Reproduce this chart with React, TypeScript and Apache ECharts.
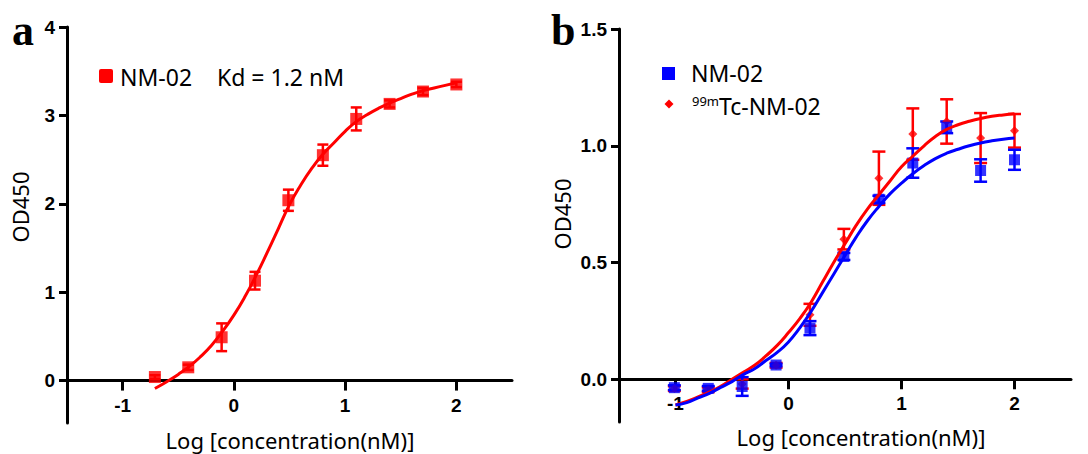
import React, { useEffect, useRef } from "react";
import * as echarts from "echarts";

// ---------- data ----------
const xTicks = [-1, 0, 1, 2];
const aYTicks = [0, 1, 2, 3, 4];
const bYTicks = [0, 0.5, 1.0, 1.5];

// panel a : NM-02
const aX = [-0.71, -0.41, -0.11, 0.19, 0.49, 0.8, 1.1, 1.4, 1.7, 2.0];
const aMean = [0.04, 0.15, 0.49, 1.13, 2.04, 2.55, 2.96, 3.13, 3.27, 3.35];
const aErr = [0.02, 0.03, 0.157, 0.1, 0.12, 0.12, 0.13, 0.04, 0.04, 0.03];
const aFitX = [-0.71, -0.6, -0.5, -0.4, -0.3, -0.2, -0.1, 0, 0.1, 0.2, 0.3, 0.4, 0.5, 0.6, 0.7, 0.8, 0.9, 1.0, 1.1, 1.2, 1.3, 1.4, 1.5, 1.6, 1.7, 1.8, 1.9, 2.0];
const aFitY = [-0.09, -0.01, 0.07, 0.16, 0.27, 0.4, 0.56, 0.74, 0.95, 1.19, 1.45, 1.72, 1.99, 2.21, 2.4, 2.56, 2.69, 2.82, 2.93, 3.01, 3.08, 3.14, 3.19, 3.24, 3.28, 3.31, 3.34, 3.37];

// panel b : NM-02 (blue) and 99mTc-NM-02 (red)
const bX = [-1.01, -0.71, -0.41, -0.11, 0.19, 0.49, 0.8, 1.1, 1.4, 1.7, 2.0];
const bBlueMean = [-0.036, -0.039, -0.031, 0.061, 0.219, 0.526, 0.771, 0.926, 1.079, 0.894, 0.94];
const bBlueErr = [0.01, 0.01, 0.04, 0.005, 0.03, 0.015, 0.015, 0.063, 0.025, 0.048, 0.043];
const bRedMean = [-0.04, -0.045, -0.02, 0.06, 0.276, 0.6, 0.861, 1.05, 1.104, 1.033, 1.064];
const bRedErr = [0.01, 0.01, 0.02, 0.01, 0.047, 0.044, 0.114, 0.11, 0.095, 0.107, 0.072];
const bFitX = [-1.0, -0.9, -0.8, -0.7, -0.6, -0.5, -0.4, -0.3, -0.2, -0.1, 0, 0.1, 0.2, 0.3, 0.4, 0.5, 0.6, 0.7, 0.8, 0.9, 1.0, 1.1, 1.2, 1.3, 1.4, 1.5, 1.6, 1.7, 1.8, 1.9, 2.0];
const bBlueFit = [-0.11, -0.1, -0.08, -0.06, -0.035, -0.01, 0.02, 0.045, 0.08, 0.115, 0.16, 0.22, 0.29, 0.37, 0.45, 0.53, 0.61, 0.68, 0.74, 0.795, 0.84, 0.88, 0.915, 0.945, 0.968, 0.985, 1.0, 1.012, 1.021, 1.028, 1.033];
const bRedFit = [-0.11, -0.095, -0.075, -0.055, -0.03, 0.0, 0.03, 0.06, 0.1, 0.145, 0.2, 0.26, 0.33, 0.415, 0.5, 0.58, 0.66, 0.73, 0.79, 0.85, 0.91, 0.955, 1.0, 1.04, 1.07, 1.09, 1.105, 1.117, 1.126, 1.132, 1.137];

// ---------- styles / layout ----------
const RED = "#ff0000";
const BLUE = "#0000ff";
const X_MIN = -1.5;
const X_MAX = 2.5;
const A_YMIN = -0.48;
const A_YMAX = 4;
const B_YMIN = -0.183;
const B_YMAX = 1.5;
const gridA = { left: 67, top: 27, width: 445, height: 396 };
const gridB = { left: 619, top: 29, width: 452, height: 393 };
// offset that lifts the x axis from the grid bottom to y = 0
const aZeroOffset = -(gridA.height * (0 - A_YMIN)) / (A_YMAX - A_YMIN);
const bZeroOffset = -(gridB.height * (0 - B_YMIN)) / (B_YMAX - B_YMIN);

const tickFont = { fontFamily: '"Liberation Sans", Arial, sans-serif', fontWeight: "bold" as const, fontSize: 19, color: "#000" };
const sansFont = '"Noto Sans", "Open Sans", sans-serif';

const zip = (xs: number[], ys: number[]) => xs.map((x, i) => [x, ys[i]]);
const zip3 = (xs: number[], ys: number[], es: number[]) => xs.map((x, i) => [x, ys[i], es[i]]);

const errRender = (capHalf: number, color: string, lw: number) => (params: any, api: any) => {
  const x = api.value(0);
  const y = api.value(1);
  const e = api.value(2);
  const top = api.coord([x, y + e]);
  const bot = api.coord([x, y - e]);
  const st = { stroke: color, lineWidth: lw };
  return {
    type: "group",
    children: [
      { type: "line", shape: { x1: top[0], y1: top[1], x2: bot[0], y2: bot[1] }, style: st },
      { type: "line", shape: { x1: top[0] - capHalf, y1: top[1], x2: top[0] + capHalf, y2: top[1] }, style: st },
      { type: "line", shape: { x1: bot[0] - capHalf, y1: bot[1], x2: bot[0] + capHalf, y2: bot[1] }, style: st },
    ],
  };
};

const axisLineStyle = { color: "#000", width: 3 };

const makeX = (gridIndex: number, offset: number) => ({
  gridIndex,
  type: "value",
  min: X_MIN,
  max: X_MAX,
  position: "bottom",
  offset,
  axisLine: { show: true, onZero: false, lineStyle: axisLineStyle },
  axisTick: { show: true, length: 10, customValues: xTicks, lineStyle: { color: "#000", width: 3 } },
  axisLabel: { show: true, customValues: xTicks, margin: 15, ...tickFont, formatter: (v: number) => String(v) },
  splitLine: { show: false },
});

const makeY = (gridIndex: number, min: number, max: number, ticks: number[], digits: number) => ({
  gridIndex,
  type: "value",
  min,
  max,
  position: "left",
  axisLine: { show: true, onZero: false, lineStyle: axisLineStyle },
  axisTick: { show: true, length: 8, customValues: ticks, lineStyle: { color: "#000", width: 3 } },
  axisLabel: { show: true, customValues: ticks, margin: 12, ...tickFont, formatter: (v: number) => v.toFixed(digits) },
  splitLine: { show: false },
});

const graphicEls: any[] = [
  // panel letters
  { type: "text", x: 12, y: 30, style: { text: "a", font: 'bold 44px "Liberation Serif", serif', fill: "#000", verticalAlign: "middle" } },
  { type: "text", x: 551, y: 30, style: { text: "b", font: 'bold 44px "Liberation Serif", serif', fill: "#000", verticalAlign: "middle" } },
  // axis titles
  { type: "text", x: 20, y: 207, rotation: Math.PI / 2, style: { text: "OD450", font: `22px ${sansFont}`, fill: "#000", align: "center", verticalAlign: "middle" } },
  { type: "text", x: 290, y: 440, style: { text: "Log [concentration(nM)]", font: `22px ${sansFont}`, lineHeight: 24, fill: "#000", align: "center", verticalAlign: "middle" } },
  { type: "text", x: 562, y: 214, rotation: Math.PI / 2, style: { text: "OD450", font: `22px ${sansFont}`, fill: "#000", align: "center", verticalAlign: "middle" } },
  { type: "text", x: 861, y: 437, style: { text: "Log [concentration(nM)]", font: `22px ${sansFont}`, lineHeight: 24, fill: "#000", align: "center", verticalAlign: "middle" } },
  // legend a
  { type: "rect", shape: { x: 99, y: 69, width: 14, height: 14, r: 2 }, style: { fill: RED } },
  { type: "text", x: 120, y: 77, style: { text: "NM-02", font: `23px ${sansFont}`, fill: "#000", verticalAlign: "middle" } },
  { type: "text", x: 217, y: 77, style: { text: "Kd = 1.2 nM", font: `23px ${sansFont}`, fill: "#000", verticalAlign: "middle" } },
  // legend b
  { type: "rect", shape: { x: 662, y: 67, width: 13, height: 13 }, style: { fill: BLUE } },
  { type: "text", x: 691, y: 73, style: { text: "NM-02", font: `23px ${sansFont}`, fill: "#000", verticalAlign: "middle" } },
  { type: "polygon", shape: { points: [[669, 99.5], [673.5, 104], [669, 108.5], [664.5, 104]] }, style: { fill: RED } },
  {
    type: "text", x: 692, y: 106,
    style: {
      text: "{s|99m}{m|Tc-NM-02}",
      fill: "#000",
      verticalAlign: "middle",
      rich: {
        s: { fontSize: 13, fontFamily: sansFont, verticalAlign: "top", fill: "#000" },
        m: { fontSize: 23, fontFamily: sansFont, fill: "#000" },
      },
    },
  },
];

const option: any = {
  animation: false,
  backgroundColor: "#fff",
  grid: [
    { ...gridA, containLabel: false, outerBoundsMode: "none" },
    { ...gridB, containLabel: false, outerBoundsMode: "none" },
  ],
  xAxis: [makeX(0, aZeroOffset), makeX(1, bZeroOffset)],
  yAxis: [makeY(0, A_YMIN, A_YMAX, aYTicks, 0), makeY(1, B_YMIN, B_YMAX, bYTicks, 1)],
  series: [
    // panel a
    {
      name: "NM-02 fit (a)", type: "line", xAxisIndex: 0, yAxisIndex: 0, data: zip(aFitX, aFitY),
      smooth: true, showSymbol: false, lineStyle: { color: RED, width: 3 }, silent: true,
    },
    {
      name: "NM-02 error (a)", type: "custom", xAxisIndex: 0, yAxisIndex: 0, data: zip3(aX, aMean, aErr),
      renderItem: errRender(5.5, RED, 2.5), silent: true,
    },
    {
      name: "NM-02 (a)", type: "scatter", xAxisIndex: 0, yAxisIndex: 0, data: zip(aX, aMean),
      symbol: "rect", symbolSize: 12, itemStyle: { color: RED }, silent: true,
    },
    // panel b
    {
      name: "99mTc-NM-02 fit", type: "line", xAxisIndex: 1, yAxisIndex: 1, data: zip(bFitX, bRedFit),
      smooth: true, showSymbol: false, lineStyle: { color: RED, width: 3 }, silent: true,
    },
    {
      name: "NM-02 fit (b)", type: "line", xAxisIndex: 1, yAxisIndex: 1, data: zip(bFitX, bBlueFit),
      smooth: true, showSymbol: false, lineStyle: { color: BLUE, width: 3 }, silent: true,
    },
    {
      name: "99mTc-NM-02 error", type: "custom", xAxisIndex: 1, yAxisIndex: 1, data: zip3(bX, bRedMean, bRedErr),
      renderItem: errRender(6.5, RED, 2.5), silent: true,
    },
    {
      name: "99mTc-NM-02", type: "scatter", xAxisIndex: 1, yAxisIndex: 1, data: zip(bX, bRedMean),
      symbol: "diamond", symbolSize: 9, itemStyle: { color: RED }, silent: true,
    },
    {
      name: "NM-02 error (b)", type: "custom", xAxisIndex: 1, yAxisIndex: 1, data: zip3(bX, bBlueMean, bBlueErr),
      renderItem: errRender(6.5, BLUE, 2.5), silent: true,
    },
    {
      name: "NM-02 (b)", type: "scatter", xAxisIndex: 1, yAxisIndex: 1, data: zip(bX, bBlueMean),
      symbol: "rect", symbolSize: 11, itemStyle: { color: BLUE }, silent: true,
    },
  ],
  graphic: graphicEls,
};

export default function App() {
  const ref = useRef<HTMLDivElement>(null);
  useEffect(() => {
    if (!ref.current) return;
    const chart = echarts.init(ref.current, null, { renderer: "svg" });
    chart.setOption(option);
    return () => chart.dispose();
  }, []);
  return (
    <div
      ref={ref}
      style={{ position: "fixed", left: 0, top: 0, width: 1088, height: 454, background: "#fff" }}
    />
  );
}
